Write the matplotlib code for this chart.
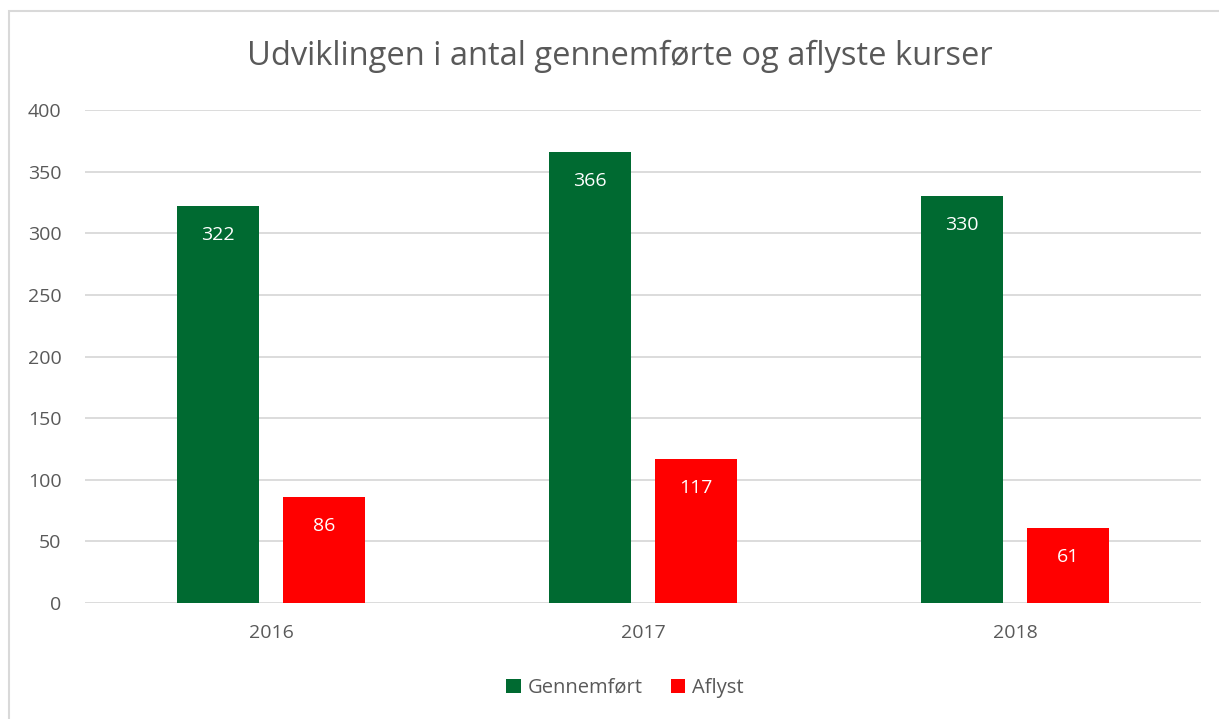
import matplotlib.pyplot as plt
import numpy as np
from matplotlib.patches import Rectangle

# Data
years = ["2016", "2017", "2018"]
gennemfoert = [322, 366, 330]
aflyst = [86, 117, 61]
series_names = ["Gennemført", "Aflyst"]
title = "Udviklingen i antal gennemførte og aflyste kurser"
yticks = [0, 50, 100, 150, 200, 250, 300, 350, 400]

GREEN = "#006A31"
RED = "#FF0000"
TEXT = "#595959"
GRID = "#D9D9D9"

plt.rcParams["font.family"] = ["Open Sans", "DejaVu Sans"]

fig = plt.figure(figsize=(12.19, 7.19), dpi=100)

# chart frame (only top and left edges fall inside the image)
fig.patches.append(Rectangle((9 / 1219, -0.1), 1.2, (719 - 11) / 719 + 0.1,
                             transform=fig.transFigure, fill=False,
                             edgecolor=GRID, linewidth=1.5))

ax = fig.add_axes([85 / 1219, 116 / 719, (1201 - 85) / 1219, 493 / 719])

x = np.arange(len(years))
w = 0.223
off = (w + 0.062) / 2
b1 = ax.bar(x - off, gennemfoert, w, color=GREEN, label=series_names[0], zorder=3)
b2 = ax.bar(x + off, aflyst, w, color=RED, label=series_names[1], zorder=3)

for bars, vals in ((b1, gennemfoert), (b2, aflyst)):
    for r, v in zip(bars, vals):
        ax.annotate(str(v), (r.get_x() + r.get_width() / 2, v),
                    xytext=(0, -29), textcoords="offset pixels",
                    ha="center", va="center", color="white", fontsize=14, zorder=4)

ax.set_xlim(-0.5, len(years) - 0.5)
ax.set_ylim(0, 400)
ax.set_yticks(yticks)
ax.set_xticks(x, years)
ax.yaxis.grid(True, color=GRID, linewidth=1.3, zorder=0)
ax.tick_params(axis="both", length=0, labelsize=14, labelcolor=TEXT)
ax.tick_params(axis="y", pad=17)
ax.tick_params(axis="x", pad=15)
for s in ax.spines.values():
    s.set_visible(False)

fig.text(620 / 1219, 1 - 56 / 719, title, ha="center", va="center",
         fontsize=23.5, color=TEXT)

fig.legend(handles=[b1, b2], loc="center", bbox_to_anchor=(625 / 1219, 1 - 688 / 719),
           ncol=2, frameon=False, fontsize=14.5, labelcolor=TEXT,
           handlelength=0.7, handleheight=0.7, handletextpad=0.35, columnspacing=1.4)

fig.savefig("out.png", dpi=100)
